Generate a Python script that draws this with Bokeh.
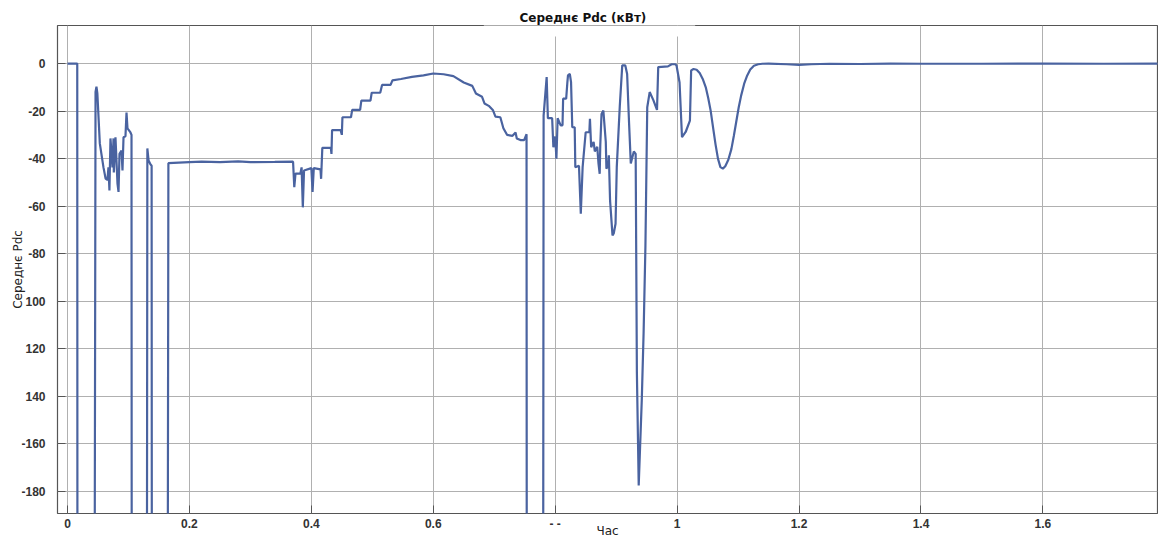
from bokeh.plotting import figure
from bokeh.models import Range1d, FixedTicker, Label
from bokeh.embed import file_html
from bokeh.resources import INLINE

# time (s) and averaged Pdc (kW); -300 = below the visible range
time_s = [0.000, 0.0160, 0.0164, 0.0440, 0.0460, 0.0475, 0.0490, 0.0530, 0.0590, 0.0625,
          0.0655, 0.0672, 0.0688, 0.0705, 0.0738, 0.0755, 0.0760, 0.0787, 0.0820, 0.0837,
          0.0853, 0.0886, 0.0902, 0.0919, 0.0951, 0.0968, 0.0984, 0.1033, 0.1050, 0.1055,
          0.1300, 0.1310, 0.1330, 0.1360, 0.1380, 0.1385, 0.1640, 0.1655, 0.2000, 0.2200,
          0.2500, 0.2800, 0.3000, 0.3400, 0.3700, 0.3720, 0.3740, 0.3820, 0.3840, 0.3860,
          0.3880, 0.4000, 0.4020, 0.4040, 0.4150, 0.4160, 0.4180, 0.4320, 0.4330, 0.4340,
          0.4480, 0.4500, 0.4510, 0.4650, 0.4670, 0.4800, 0.4820, 0.4970, 0.4990, 0.5130,
          0.5160, 0.5300, 0.5330, 0.5470, 0.5650, 0.5840, 0.6000, 0.6170, 0.6330, 0.6500,
          0.6640, 0.6700, 0.6800, 0.6840, 0.6910, 0.6980, 0.7020, 0.7100, 0.7150, 0.7210,
          0.7300, 0.7350, 0.7370, 0.7430, 0.7490, 0.7530, 0.7535, 0.7800, 0.7810, 0.7860,
          0.7880, 0.7950, 0.7970, 0.8000, 0.8020, 0.8040, 0.8090, 0.8120, 0.8130, 0.8180,
          0.8200, 0.8210, 0.8240, 0.8260, 0.8280, 0.8320, 0.8330, 0.8390, 0.8420, 0.8450,
          0.8500, 0.8560, 0.8570, 0.8590, 0.8630, 0.8650, 0.8690, 0.8710, 0.8730, 0.8740,
          0.8760, 0.8790, 0.8830, 0.8840, 0.8870, 0.8880, 0.8900, 0.8940, 0.8960, 0.8990,
          0.9010, 0.9060, 0.9100, 0.9150, 0.9180, 0.9210, 0.9240, 0.9270, 0.9290, 0.9320,
          0.9340, 0.9370, 0.9420, 0.9450, 0.9480, 0.9510, 0.9550, 0.9610, 0.9670, 0.9690,
          0.9850, 0.9910, 0.9970, 0.9990, 1.0040, 1.0080, 1.0140, 1.0210, 1.0230, 1.0270,
          1.0320, 1.0370, 1.0420, 1.0470, 1.0510, 1.0550, 1.0590, 1.0630, 1.0670, 1.0710,
          1.0750, 1.0790, 1.0840, 1.0890, 1.0930, 1.0970, 1.1010, 1.1050, 1.1100, 1.1150,
          1.1200, 1.1260, 1.1330, 1.1400, 1.1500, 1.1800, 1.2000, 1.2200, 1.2500, 1.3000,
          1.3500, 1.4000, 1.5000, 1.6000, 1.7000, 1.7900]
pdc_kw = [0, 0, -300, -300, -12, -9.7, -12.6, -33.6, -43.7, -48.4,
          -49, -43.7, -53.4, -31.5, -43.7, -31.5, -45.8, -31, -50.5, -54,
          -38, -36.6, -45, -31, -30.6, -20.6, -27.3, -29, -30, -300,
          -300, -35.7, -40.8, -42.4, -43, -300, -300, -41.9, -41.5, -41.3,
          -41.5, -41.2, -41.5, -41.4, -41.3, -52, -46.3, -46.3, -43.7, -60.5,
          -45, -44, -54, -44, -44.5, -48.5, -35.5, -35.5, -38, -28,
          -28, -30, -22.6, -22.6, -19.5, -19.5, -15.6, -15.6, -12.3, -12.3,
          -9, -9, -7.1, -6.5, -5.6, -5, -4.2, -4.5, -5.3, -8,
          -9.4, -12.6, -14, -16.8, -17.8, -19.7, -22.3, -22.6, -27.2, -30,
          -30.4, -29, -31.5, -32.2, -32.2, -29.7, -300, -300, -21.9, -5.7,
          -23, -23, -35.2, -30.7, -40, -23, -26, -26, -14.8, -14.8,
          -7.8, -5, -4.4, -7.8, -26.8, -26.8, -43.6, -43, -63.2, -43.6,
          -28.9, -28.9, -23.3, -35.2, -33, -37, -35, -42, -46.4, -34,
          -21.2, -19.8, -33, -44.3, -42.5, -38.6, -57.6, -72.3, -71.5, -67.4,
          -43.6, -17.7, -0.8, -0.8, -4.4, -24, -42, -39, -37, -38,
          -130, -177.5, -141.7, -113.5, -77, -18.4, -12, -15.4, -19.5, -1.5,
          -1.2, -0.3, -0.3, -0.8, -8, -31, -28.8, -24, -2.9, -2.3,
          -2.6, -4.0, -6.5, -10, -14.5, -19.8, -27, -34, -40, -43.6,
          -44.2, -43.2, -40.5, -36, -30.5, -24.5, -18.5, -13.5, -8.5, -5,
          -2.5, -0.9, -0.3, -0.1, 0, -0.3, -0.6, -0.3, -0.1, -0.2,
          0, -0.1, -0.1, 0, -0.1, 0]

x_ticks = [0, 0.2, 0.4, 0.6, 0.8, 1.0, 1.2, 1.4, 1.6]
x_tick_labels = ["0", "0.2", "0.4", "0.6", "- -", "1", "1.2", "1.4", "1.6"]
y_ticks = [0, -20, -40, -60, -80, -100, -120, -140, -160, -180]
y_tick_labels = ["0", "-20", "-40", "-60", "-80", "100", "120", "140", "-160", "-180"]

title_text = "Середнє Pdc (кВт)"
x_label = "Час"
y_label = "Середнє Pdc"

p = figure(width=1158, height=540, output_backend="svg", toolbar_location=None,
           x_range=Range1d(-0.0164, 1.788), y_range=Range1d(-189.3, 16.0),
           min_border_left=57, min_border_right=1, min_border_top=25, min_border_bottom=27,
           title=title_text)
p.background_fill_color = "white"
p.border_fill_color = "white"
p.outline_line_color = "#555555"
p.outline_line_width = 1.2

p.title.text_font = "DejaVu Sans"
p.title.text_font_style = "bold"
p.title.text_font_size = "12px"
p.title.text_color = "#111111"
p.title.align = "left"
p.title.offset = 462
p.title.standoff = 1

p.line(time_s, pdc_kw, line_color="#4a63a0", line_width=2.2)

for ax, ticks, labels in ((p.xaxis[0], x_ticks, x_tick_labels), (p.yaxis[0], y_ticks, y_tick_labels)):
    ax.ticker = FixedTicker(ticks=ticks)
    ax.major_label_overrides = {t: l for t, l in zip(ticks, labels)}
    ax.axis_line_color = None
    ax.major_tick_in = 8
    ax.major_tick_out = 0
    ax.major_tick_line_color = "#555555"
    ax.minor_tick_line_color = None
    ax.major_label_text_font = "Liberation Sans"
    ax.major_label_text_font_style = "bold"
    ax.major_label_text_font_size = "12px"
    ax.major_label_text_color = "#333333"
    ax.axis_label_text_font = "DejaVu Sans"
    ax.axis_label_text_font_style = "normal"
    ax.axis_label_text_font_size = "12px"
    ax.axis_label_text_color = "#222222"
p.xaxis[0].axis_label = x_label
p.yaxis[0].axis_label = y_label
p.xaxis[0].major_label_standoff = 3
p.xaxis[0].axis_label_standoff = -10
p.yaxis[0].major_label_standoff = 12
p.yaxis[0].axis_label_standoff = -7

for g in (p.xgrid[0], p.ygrid[0]):
    g.grid_line_color = "#b0b0b0"
    g.grid_line_width = 1
p.xgrid[0].ticker = FixedTicker(ticks=x_ticks)
p.ygrid[0].ticker = FixedTicker(ticks=y_ticks)

# white gap in the frame's top edge behind the title (screen units from the frame's bottom-left)
p.add_layout(Label(x=532, y=490, x_units="screen", y_units="screen", text=" ",
                   text_font_size="12px", text_align="center", text_baseline="middle",
                   background_fill_color="white",
                   padding=dict(left=104, right=104, top=6, bottom=6)))

open("out.html", "w").write(file_html(p, INLINE))
